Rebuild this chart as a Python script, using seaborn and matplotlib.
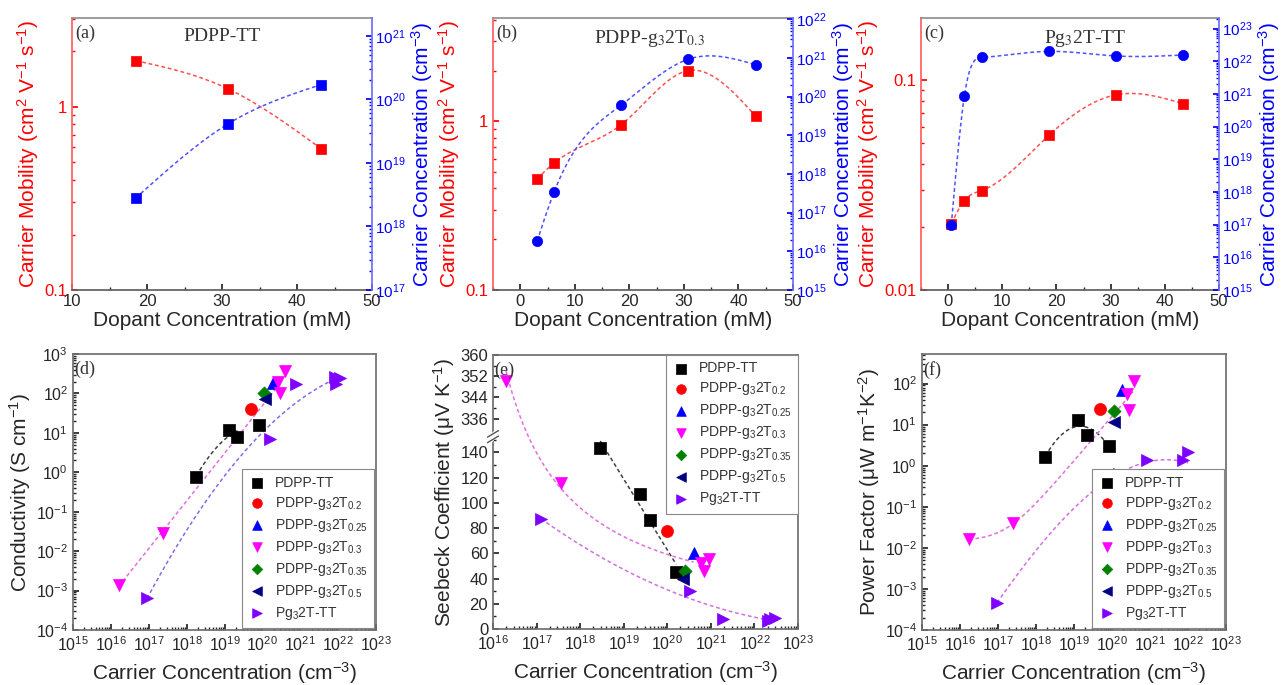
import numpy as np
import seaborn as sns
import matplotlib.pyplot as plt
from matplotlib.ticker import (LogLocator, MultipleLocator, FixedLocator,
                               NullFormatter, LogFormatterMathtext, FuncFormatter)

# ---- top row: dopant concentration (mM), mobility, carrier concentration
dop_a = [18.5, 30.8, 43.2]
mob_a = [1.78, 1.25, 0.59]
conc_a = [2.8e18, 4.1e19, 1.7e20]

dop_b = [3.1, 6.2, 18.5, 30.8, 43.2]
mob_b = [0.457, 0.566, 0.955, 2.0, 1.07]
conc_b = [1.85e16, 3.4e17, 6.0e19, 9.2e20, 6.6e20]

dop_c = [0.6, 3.0, 6.2, 18.6, 30.9, 43.4]
mob_c = [0.0207, 0.0267, 0.0298, 0.0546, 0.0851, 0.0773]
conc_c = [1.0e17, 8.5e20, 1.3e22, 2.0e22, 1.45e22, 1.55e22]

# ---- bottom row: one list per polymer
names = ['PDPP-TT', 'PDPP-g$_3$2T$_{0.2}$', 'PDPP-g$_3$2T$_{0.25}$', 'PDPP-g$_3$2T$_{0.3}$',
         'PDPP-g$_3$2T$_{0.35}$', 'PDPP-g$_3$2T$_{0.5}$', 'Pg$_3$2T-TT']
colors = ['black', 'red', 'blue', 'magenta', '#008000', '#000080', '#8000ff']
markers = ['s', 'o', '^', 'v', 'D', '<', '>']

n_d = [[1.8e18, 1.3e19, 2.2e19, 8.0e19], [4.9e19], [1.9e20],
       [1.6e16, 2.4e17, 2.6e20, 2.9e20, 4.0e20], [1.1e20], [1.2e20],
       [9.0e16, 1.55e20, 7.8e20, 8.3e21, 8.9e21, 1.1e22]]
sigma = [[0.78, 11.8, 7.7, 15.5], [40], [181],
         [1.4e-3, 0.0295, 199, 100, 370], [104], [71],
         [6.6e-4, 6.9, 174, 257, 170, 241]]

n_e = [[2.9e18, 2.4e19, 4.1e19, 1.6e20], [1.0e20], [4.0e20],
       [2.0e16, 3.6e17, 5.9e20, 6.9e20, 8.9e20], [2.6e20], [2.3e20],
       [1.26e17, 3.4e20, 1.9e21, 2.1e22, 2.3e22, 3.0e22]]
seebeck = [[143.8, 107, 86.5, 44.9], [77.8], [60.2],
           [350.3, 115.6, 52.2, 45.6, 55.4], [45.6], [39.6],
           [87, 29.8, 7.9, 6.0, 7.9, 8.7]]

n_f = [[1.75e18, 1.26e19, 2.2e19, 8.5e19], [4.9e19], [1.8e20],
       [1.7e16, 2.5e17, 2.5e20, 2.8e20, 3.9e20], [1.15e20], [1.15e20],
       [9.4e16, 1.5e20, 8.3e20, 7.6e21, 8.9e21, 1.02e22]]
pf = [[1.63, 13.2, 5.7, 3.1], [23.7], [69],
      [0.016, 0.040, 55, 22.4, 114], [21], [11.6],
      [4.6e-4, 0.62, 1.35, 1.35, 0.57, 2.15]]

sns.set_theme(style='ticks')
plt.rcParams['font.family'] = ['Liberation Sans', 'DejaVu Sans']
plt.rcParams['mathtext.fontset'] = 'custom'
plt.rcParams['mathtext.rm'] = 'Liberation Sans'
plt.rcParams['mathtext.it'] = 'Liberation Sans:italic'
plt.rcParams['mathtext.bf'] = 'Liberation Sans:bold'
plt.rcParams['xtick.direction'] = 'in'
plt.rcParams['ytick.direction'] = 'in'

RED, BLUE = 'red', 'blue'
DASH = (0, (2.5, 1.8))
W, H = 1286, 685
fig = plt.figure(figsize=(12.86, 6.85), dpi=100)


def box(x0, y0, x1, y1):
    return [x0 / W, 1 - y1 / H, (x1 - x0) / W, (y1 - y0) / H]


def spline(x, y, num=200):
    # natural cubic spline, used as the smooth connecting line
    x = np.asarray(x, float)
    y = np.asarray(y, float)
    n = len(x)
    h = np.diff(x)
    A = np.zeros((n, n))
    b = np.zeros(n)
    A[0, 0] = A[-1, -1] = 1
    for i in range(1, n - 1):
        A[i, i - 1] = h[i - 1]
        A[i, i] = 2 * (h[i - 1] + h[i])
        A[i, i + 1] = h[i]
        b[i] = 6 * ((y[i + 1] - y[i]) / h[i] - (y[i] - y[i - 1]) / h[i - 1])
    M = np.linalg.solve(A, b)
    xs = np.linspace(x[0], x[-1], num)
    k = np.clip(np.searchsorted(x, xs) - 1, 0, n - 2)
    t0 = x[k + 1] - xs
    t1 = xs - x[k]
    hk = h[k]
    ys = ((M[k] * t0 ** 3 + M[k + 1] * t1 ** 3) / (6 * hk)
          + (y[k] / hk - M[k] * hk / 6) * t0 + (y[k + 1] / hk - M[k + 1] * hk / 6) * t1)
    return xs, ys


def fit_curve(n, y, deg, lo, hi, to=np.log10, back=lambda v: 10 ** v):
    c = np.polyfit(np.log10(n), to(np.asarray(y, float)), deg)
    xs = np.linspace(np.log10(lo), np.log10(hi), 200)
    return 10 ** xs, back(np.polyval(c, xs))


def floor_power_fit(n, y, lo, hi):
    # y = B + A*n^p, B scanned, A and p from a log-log line
    lx = np.log10(n)
    y = np.asarray(y, float)
    best = None
    for B in np.linspace(0, 0.98, 99) * y.min():
        c = np.polyfit(lx, np.log10(y - B), 1)
        err = np.sum((np.log10(B + 10 ** np.polyval(c, lx)) - np.log10(y)) ** 2)
        if best is None or err < best[0]:
            best = (err, B, c)
    xs = np.linspace(np.log10(lo), np.log10(hi), 200)
    return 10 ** xs, best[1] + 10 ** np.polyval(best[2], xs)


def top_panel(rect, dop, mob, conc, tag, title, xlim, mlim, clim, bmark, tx=0.5):
    ax = fig.add_axes(rect)
    ax2 = ax.twinx()
    ax.set_yscale('log')
    ax2.set_yscale('log')
    xs, ys = spline(dop, np.log10(mob))
    sns.lineplot(x=xs, y=10 ** ys, ax=ax, color='#ff5050', lw=1.1, linestyle=DASH, estimator=None)
    sns.scatterplot(x=dop, y=mob, ax=ax, marker='s', color=RED, s=45, edgecolor=RED, linewidth=0.5, zorder=3)
    xs, ys = spline(dop, np.log10(conc))
    sns.lineplot(x=xs, y=10 ** ys, ax=ax2, color='#5050ff', lw=1.1, linestyle=DASH, estimator=None)
    sns.scatterplot(x=dop, y=conc, ax=ax2, marker=bmark, color=BLUE, s=55 if bmark == 'o' else 45,
                    edgecolor=BLUE, linewidth=0.5, zorder=3)
    ax.set_xlim(*xlim)
    ax.set_ylim(*mlim)
    ax2.set_ylim(*clim)
    ax.xaxis.set_major_locator(MultipleLocator(10))
    ax.xaxis.set_minor_locator(MultipleLocator(5))
    ax.yaxis.set_major_locator(LogLocator(base=10, numticks=20))
    ax.yaxis.set_minor_locator(LogLocator(base=10, subs=np.arange(2, 10), numticks=100))
    ax.yaxis.set_major_formatter(FuncFormatter(lambda v, p: f'{v:g}'))
    ax.yaxis.set_minor_formatter(NullFormatter())
    ax2.yaxis.set_major_locator(LogLocator(base=10, numticks=20))
    ax2.yaxis.set_minor_locator(LogLocator(base=10, subs=np.arange(2, 10), numticks=100))
    ax2.yaxis.set_major_formatter(LogFormatterMathtext())
    ax2.yaxis.set_minor_formatter(NullFormatter())
    ax.tick_params(axis='x', labelsize=12, length=4, pad=3)
    ax.tick_params(axis='x', which='minor', length=2.5)
    ax.tick_params(axis='y', which='both', colors=RED, labelsize=12)
    ax.tick_params(axis='y', which='major', length=4)
    ax.tick_params(axis='y', which='minor', length=2.5)
    ax2.tick_params(axis='y', which='both', colors=BLUE, labelsize=11, pad=2)
    ax2.tick_params(axis='y', which='major', length=4)
    ax2.tick_params(axis='y', which='minor', length=2.5)
    for s in ['left', 'top', 'bottom']:
        ax2.spines[s].set_visible(False)
    ax.spines['right'].set_visible(False)
    ax.spines['left'].set_color('#ff6060')
    ax2.spines['right'].set_color('#7070ff')
    ax.spines['top'].set_color('#909090')
    ax.spines['bottom'].set_color('#606060')
    ax.set_xlabel('Dopant Concentration (mM)', fontsize=15, labelpad=1)
    ax.set_ylabel('Carrier Mobility (cm$^2$ V$^{-1}$ s$^{-1}$)', fontsize=15, color=RED, labelpad=2)
    ax2.set_ylabel('Carrier Concentration (cm$^{-3}$)', fontsize=15, color=BLUE, labelpad=3)
    ax.text(0.01, 0.975, tag, transform=ax.transAxes, ha='left', va='top', fontsize=13,
            family='Liberation Serif', color='#333333')
    ax.text(tx, 0.965, title, transform=ax.transAxes, ha='center', va='top', fontsize=14,
            family='Liberation Serif', math_fontfamily='stix', color='#333333')
    return ax


top_panel(box(72, 18, 372, 290), dop_a, mob_a, conc_a, '(a)', 'PDPP-TT',
          (10, 50), (0.1, 3.04), (1e17, 1.9e21), 's')
top_panel(box(493, 18, 793, 290), dop_b, mob_b, conc_b, '(b)', 'PDPP-g$_3$2T$_{0.3}$',
          (-5, 50), (0.1, 4.1), (1e15, 1.07e22), 'o', tx=0.52)
top_panel(box(921, 18, 1219, 290), dop_c, mob_c, conc_c, '(c)', 'Pg$_3$2T-TT',
          (-5, 50), (0.01, 0.198), (1e15, 2.1e23), 'o', tx=0.55)


def scatter_all(ax, nn, vals, size=75):
    for i in range(len(names)):
        sns.scatterplot(x=nn[i], y=vals[i], ax=ax, marker=markers[i], color=colors[i],
                        s=size if markers[i] != 'D' else size * 0.6, edgecolor=colors[i],
                        linewidth=0.5, label=names[i], zorder=3)


def draw_line(ax, xs, ys, color):
    sns.lineplot(x=xs, y=ys, ax=ax, color=color, lw=1.1, linestyle=DASH, estimator=None, sort=False)


def style_bottom(ax, xlim, tag):
    ax.set_xscale('log')
    ax.set_xlim(*xlim)
    ax.xaxis.set_major_locator(LogLocator(base=10, numticks=20))
    ax.xaxis.set_minor_locator(LogLocator(base=10, subs=np.arange(2, 10), numticks=200))
    ax.xaxis.set_major_formatter(LogFormatterMathtext())
    ax.xaxis.set_minor_formatter(NullFormatter())
    ax.tick_params(axis='both', which='major', labelsize=11.5, length=4)
    ax.tick_params(axis='both', which='minor', length=2)
    ax.tick_params(axis='x', pad=4)
    for s in ax.spines.values():
        s.set_color('#707070')
    ax.set_xlabel('Carrier Concentration (cm$^{-3}$)', fontsize=15, labelpad=4)
    ax.text(0.005, 0.975, tag, transform=ax.transAxes, ha='left', va='top', fontsize=13,
            family='Liberation Serif', color='#333333')


def legend(ax, loc, pad):
    lg = ax.legend(loc=loc, fontsize=10, frameon=True, fancybox=False, edgecolor='#888888',
                   framealpha=1, borderaxespad=pad, labelspacing=0.36, handletextpad=0.6,
                   handlelength=1.3, borderpad=0.45, markerscale=0.8)
    for t in lg.get_texts():
        t.set_color('#333333')
    lg.get_frame().set_linewidth(0.8)


# ---- (d) conductivity
ax = fig.add_axes(box(73, 354, 376, 630))
ax.set_yscale('log')
ax.set_xscale('log')
draw_line(ax, *fit_curve(n_d[0], sigma[0], 2, 1.8e18, 2.2e19), '#404040')
draw_line(ax, *fit_curve(n_d[3], sigma[3], 1, 1.6e16, 2.5e20), '#e070e0')
draw_line(ax, *fit_curve(n_d[6], sigma[6], 2, 9.0e16, 1.1e22), '#8a6ae8')
scatter_all(ax, n_d, sigma)
style_bottom(ax, (1e15, 1e23), '(d)')
ax.set_ylim(1e-4, 1e3)
ax.yaxis.set_major_locator(LogLocator(base=10, numticks=20))
ax.yaxis.set_minor_locator(LogLocator(base=10, subs=np.arange(2, 10), numticks=200))
ax.yaxis.set_major_formatter(LogFormatterMathtext())
ax.yaxis.set_minor_formatter(NullFormatter())
ax.set_ylabel('Conductivity (S cm$^{-1}$)', fontsize=15, labelpad=2)
legend(ax, 'lower right', 0.15)

# ---- (e) Seebeck with broken axis
LO, HI, K = 152.5, 329.2, 2.1


def fwd(y):
    y = np.asarray(y, float)
    return np.where(y <= LO, y, np.where(y >= HI, LO + (y - HI) * K, LO))


def inv(y):
    y = np.asarray(y, float)
    return np.where(y <= LO, y, HI + (y - LO) / K)


ax = fig.add_axes(box(493, 355, 798, 629))
ax.set_xscale('log')
lin = lambda v: v
draw_line(ax, *fit_curve(n_e[0], seebeck[0], 1, 2.9e18, 1.6e20, to=lin, back=lin), '#404040')
draw_line(ax, *fit_curve(n_e[3], seebeck[3], 1, 2.0e16, 4.0e20,
                         to=lambda v: 1 / fwd(v), back=lambda v: inv(1 / v)), '#e070e0')
draw_line(ax, *fit_curve(n_e[6], seebeck[6], 2, 1.26e17, 2.6e22, to=lin, back=lin), '#d070e0')
scatter_all(ax, n_e, seebeck)
style_bottom(ax, (1e16, 1e23), '(e)')
ax.set_yscale('function', functions=(fwd, inv))
ax.set_ylim(0, 360)
ax.yaxis.set_major_locator(FixedLocator([0, 20, 40, 60, 80, 100, 120, 140, 336, 344, 352, 360]))
ax.yaxis.set_minor_locator(FixedLocator([10, 30, 50, 70, 90, 110, 130, 150, 340, 348, 356]))
ax.yaxis.set_major_formatter(FuncFormatter(lambda v, p: f'{v:.0f}'))
ax.yaxis.set_minor_formatter(NullFormatter())
ax.tick_params(axis='y', labelsize=12)
ax.set_ylabel('Seebeck Coefficient (μV K$^{-1}$)', fontsize=15, labelpad=2)
yb = LO / float(fwd(360))
ax.plot([-0.004, 0.004], [yb - 0.012, yb + 0.012], transform=ax.transAxes, color='white',
        lw=3, clip_on=False, zorder=5)
for dy in (-0.01, 0.01):
    ax.plot([-0.018, 0.018], [yb + dy - 0.012, yb + dy + 0.012], transform=ax.transAxes,
            color='#555555', lw=1, clip_on=False, zorder=6)
legend(ax, 'upper right', 0)

# ---- (f) power factor
ax = fig.add_axes(box(922, 354, 1226, 630))
ax.set_yscale('log')
ax.set_xscale('log')
draw_line(ax, *fit_curve(n_f[0], pf[0], 2, 1.75e18, 8.5e19), '#404040')
draw_line(ax, *floor_power_fit(n_f[3], pf[3], 1.7e16, 3.6e20), '#e070e0')
draw_line(ax, *fit_curve(n_f[6], pf[6], 3, 9.4e16, 1.0e22), '#d070e0')
scatter_all(ax, n_f, pf)
style_bottom(ax, (1e15, 1e23), '(f)')
ax.set_ylim(1e-4, 5.25e2)
ax.yaxis.set_major_locator(LogLocator(base=10, numticks=20))
ax.yaxis.set_minor_locator(LogLocator(base=10, subs=np.arange(2, 10), numticks=200))
ax.yaxis.set_major_formatter(LogFormatterMathtext())
ax.yaxis.set_minor_formatter(NullFormatter())
ax.set_ylabel('Power Factor (μW m$^{-1}$K$^{-2}$)', fontsize=15, labelpad=2)
legend(ax, 'lower right', 0.15)

plt.savefig('out.png', dpi=100)
